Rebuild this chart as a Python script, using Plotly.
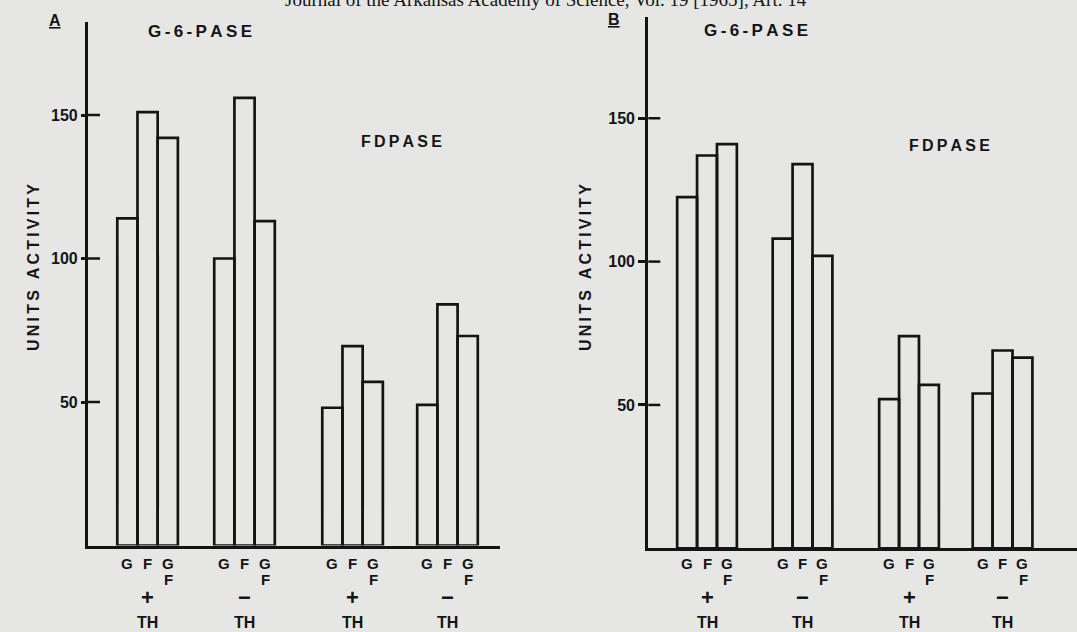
import plotly.graph_objects as go

W, H = 1077, 632
BG = "#e6e6e4"
INK = "#141414"

# ---------------- data ----------------
groups = ["+ TH", "− TH", "+ TH", "− TH"]      # G-6-PASE (+/-TH), FDPASE (+/-TH)
signs = ["+", "−", "+", "−"]
series_names = ["G", "F", "G F"]

panelA_G = [114, 100, 48, 49]
panelA_F = [151, 156, 69.5, 84]
panelA_GF = [142, 113, 57, 73]

panelB_G = [122.5, 108, 52, 54]
panelB_F = [137, 134, 74, 69]
panelB_GF = [141, 102, 57, 66.5]

y_ticks = [50, 100, 150]

# ---------------- layout helpers ----------------
group_pos = [2.95, 7.75, 13.1, 17.8]   # group centre, in bar-width units
offsets = [-1, 0, 1]


def px(x):
    return x / W


def py(y):
    return 1 - y / H


def spaced(s):
    return "\u2009".join(s)


fig = go.Figure()

panels = [
    ("x", "y", [panelA_G, panelA_F, panelA_GF]),
    ("x2", "y2", [panelB_G, panelB_F, panelB_GF]),
]
for xa, ya, vals in panels:
    for name, off, v in zip(series_names, offsets, vals):
        fig.add_trace(go.Bar(
            x=[g + off for g in group_pos], y=v, width=1, name=name,
            marker=dict(color="rgba(0,0,0,0)", line=dict(color=INK, width=2.7)),
            xaxis=xa, yaxis=ya, showlegend=False, hoverinfo="x+y"))

axis_common = dict(showgrid=False, zeroline=False, showline=True,
                   linecolor=INK, linewidth=3.2)
tfont = dict(family="Liberation Sans", size=16, color=INK, weight="bold")
fig.update_layout(
    width=W, height=H, margin=dict(l=0, r=0, t=0, b=0),
    paper_bgcolor=BG, plot_bgcolor=BG, barmode="overlay",
    xaxis=dict(domain=[px(88), px(500)], range=[0, 20.4], anchor="y",
               showticklabels=False, ticks="", **axis_common),
    yaxis=dict(domain=[py(545.5), py(22)], range=[0, (545.5 - 22) / 2.87],
               anchor="x", tickvals=y_ticks, ticks="outside", ticklen=4,
               tickwidth=2.5, tickcolor=INK, tickfont=tfont, **axis_common),
    xaxis2=dict(domain=[px(648.3), 1.0], range=[0, 21.54], anchor="y2",
                showticklabels=False, ticks="", **axis_common),
    yaxis2=dict(domain=[py(548.3), py(17)], range=[0, (548.3 - 17) / 2.867],
                anchor="x2", tickvals=y_ticks, ticks="outside", ticklen=7,
                tickwidth=2.5, tickcolor=INK, tickfont=tfont, **axis_common),
)

# inner part of the tick marks (they cross the axis line)
for xd, ya, frac in [("x domain", "y", 12 / 412), ("x2 domain", "y2", 12 / 429)]:
    for t in y_ticks:
        fig.add_shape(type="line", xref=xd, yref=ya, x0=0, x1=frac, y0=t, y1=t,
                      line=dict(color=INK, width=2.5))


def ann(text, x, y, xref="paper", size=13, angle=0, family="Liberation Sans",
        weight="bold", xanchor="center", yanchor="middle"):
    fig.add_annotation(text=text, x=x, y=y, xref=xref, yref="paper",
                       showarrow=False, textangle=angle, xanchor=xanchor,
                       yanchor=yanchor,
                       font=dict(family=family, size=size, color=INK,
                                 weight=weight))


# category labels under the bars
for xa in ["x", "x2"]:
    for g, s in zip(group_pos, signs):
        for off, lab in zip(offsets, ["G", "F", "G"]):
            ann(lab, g + off, py(563), xref=xa, size=15)
        ann("F", g + 1.05, py(579), xref=xa, size=15)
        ann(s, g, py(597), xref=xa, size=22)
        ann("TH", g, py(622), xref=xa, size=16)

# titles / panel texts
ann(spaced("UNITS ACTIVITY"), px(33), py(268), size=16, angle=-90)
ann(spaced("UNITS ACTIVITY"), px(585), py(268), size=16, angle=-90)
ann(spaced("G-6-PASE"), px(200), py(31), size=17)
ann(spaced("G-6-PASE"), px(756), py(30), size=17)
ann(spaced("FDPASE"), px(401), py(142), size=16)
ann(spaced("FDPASE"), px(949), py(145), size=16)
ann("<u>A</u>", px(55), py(21), size=16)
ann("<u>B</u>", px(614), py(19), size=16)

# running header of the scanned page
ann("Journal of the Arkansas Academy of Science, Vol. 19 [1965], Art. 14",
    px(546), py(12), size=19, family="Liberation Serif", weight="normal",
    yanchor="bottom")

fig.write_html("out.html", config={"displayModeBar": False},
               post_script="document.body.style.margin='0';"
                           "document.body.style.background='" + BG + "';")
